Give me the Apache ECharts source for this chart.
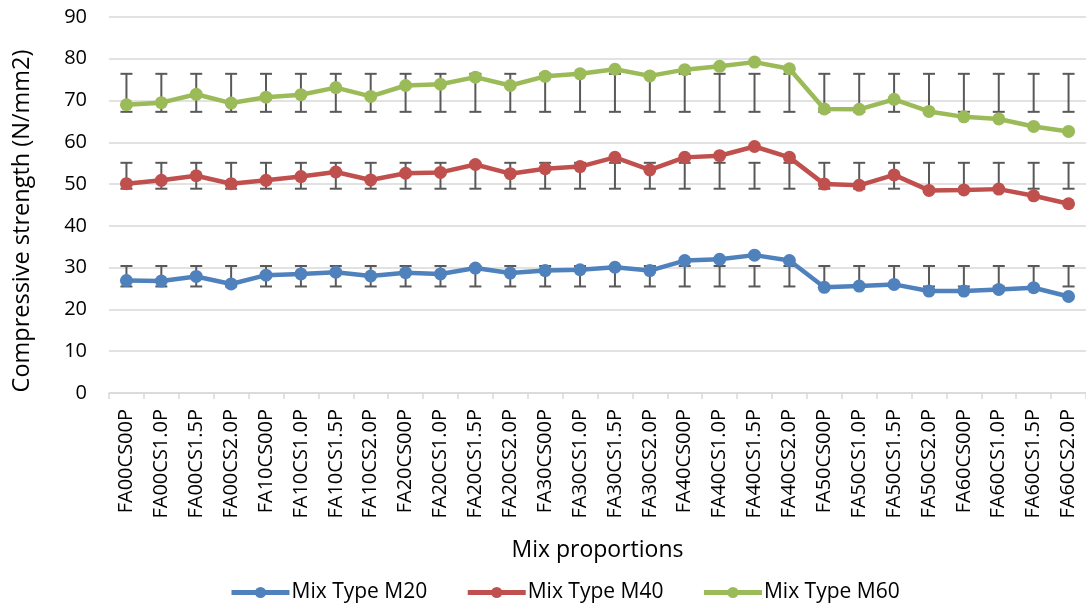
<!DOCTYPE html>
<html>
<head>
<meta charset="utf-8">
<script src="https://cdn.jsdelivr.net/npm/echarts@6/dist/echarts.min.js"></script>
<style>
html,body{margin:0;padding:0;background:#fff;}
#chart{width:1086px;height:606px;}
</style>
</head>
<body>
<div id="chart"></div>
<script>
var categories = ['FA00CS00P','FA00CS1.0P','FA00CS1.5P','FA00CS2.0P','FA10CS00P','FA10CS1.0P','FA10CS1.5P','FA10CS2.0P','FA20CS00P','FA20CS1.0P','FA20CS1.5P','FA20CS2.0P','FA30CS00P','FA30CS1.0P','FA30CS1.5P','FA30CS2.0P','FA40CS00P','FA40CS1.0P','FA40CS1.5P','FA40CS2.0P','FA50CS00P','FA50CS1.0P','FA50CS1.5P','FA50CS2.0P','FA60CS00P','FA60CS1.0P','FA60CS1.5P','FA60CS2.0P'];
var seriesNames = ['Mix Type M20','Mix Type M40','Mix Type M60'];
var m20 = [26.9,26.8,27.9,26.1,28.2,28.5,28.9,28.0,28.8,28.5,29.9,28.7,29.3,29.5,30.1,29.3,31.7,32.0,33.0,31.7,25.3,25.6,26.0,24.4,24.4,24.8,25.2,23.1];
var m40 = [50.1,50.9,52.0,50.1,50.9,51.8,52.9,51.0,52.6,52.8,54.7,52.5,53.7,54.2,56.4,53.4,56.4,56.8,59.0,56.4,50.0,49.7,52.2,48.5,48.6,48.8,47.2,45.3];
var m60 = [69.0,69.5,71.5,69.4,70.8,71.4,73.1,71.0,73.6,73.9,75.6,73.6,75.8,76.4,77.5,75.9,77.4,78.2,79.2,77.6,68.0,67.9,70.3,67.4,66.1,65.6,63.8,62.6];
// error bar range (low, high) per series, same for every category
var errM20 = [25.5, 30.4];
var errM40 = [48.9, 55.1];
var errM60 = [67.3, 76.4];
var yTicks = [0,10,20,30,40,50,60,70,80,90];
var xTitle = 'Mix proportions';
var yTitle = 'Compressive strength (N/mm2)';

var colors = ['#4f81bd','#c0504d','#9bbb59'];
var values = [m20, m40, m60];
var errs = [errM20, errM40, errM60];

function errData(err){
  return categories.map(function(c,i){ return [i, err[0], err[1]]; });
}
function renderErr(params, api){
  var x = api.value(0);
  var lo = api.coord([x, api.value(1)]);
  var hi = api.coord([x, api.value(2)]);
  var hw = 6;
  var st = {stroke:'#595959', lineWidth:2, fill:null};
  return {type:'group', children:[
    {type:'line', shape:{x1:lo[0],y1:lo[1],x2:hi[0],y2:hi[1]}, style:st},
    {type:'line', shape:{x1:lo[0]-hw,y1:lo[1],x2:lo[0]+hw,y2:lo[1]}, style:st},
    {type:'line', shape:{x1:hi[0]-hw,y1:hi[1],x2:hi[0]+hw,y2:hi[1]}, style:st}
  ]};
}

var series = [];
for (var k=0;k<3;k++){
  series.push({
    type:'custom', name:seriesNames[k]+' err', renderItem:renderErr,
    data:errData(errs[k]), z:1, silent:true, encode:{x:0,y:[1,2]}
  });
}
for (var k=0;k<3;k++){
  series.push({
    type:'line', name:seriesNames[k], data:values[k], z:3,
    symbol:'circle', symbolSize:13,
    lineStyle:{color:colors[k], width:4.5},
    itemStyle:{color:colors[k]},
    animation:false
  });
}

var chart = echarts.init(document.getElementById('chart'));
chart.setOption({
  animation:false,
  color:colors,
  textStyle:{fontFamily:'Open Sans'},
  grid:{left:109, top:17, width:979, height:376, containLabel:false},
  xAxis:{
    type:'category', data:categories, boundaryGap:true,
    axisLine:{lineStyle:{color:'#d9d9d9', width:1.5}},
    axisTick:{show:true, length:6, lineStyle:{color:'#d9d9d9', width:1.5}},
    axisLabel:{rotate:90, fontSize:20, color:'#000', margin:16, fontFamily:'Open Sans', interval:0},
    name:xTitle, nameLocation:'middle', nameGap:157,
    nameTextStyle:{fontSize:23, color:'#000', fontFamily:'Open Sans', verticalAlign:'middle'}
  },
  yAxis:{
    type:'value', min:yTicks[0], max:yTicks[yTicks.length-1], interval:10,
    axisLine:{show:false}, axisTick:{show:false},
    splitLine:{lineStyle:{color:'#d9d9d9', width:1.5}},
    axisLabel:{fontSize:20, color:'#000', margin:22, fontFamily:'Open Sans'}
  },
  graphic:[{
    type:'text', x:22, y:221, rotation:Math.PI/2,
    style:{text:yTitle, font:'23.5px "Open Sans"', fill:'#000', align:'center', verticalAlign:'middle'}
  }],
  legend:{
    data:seriesNames, left:224, top:577, itemWidth:58, itemHeight:14, itemGap:38,
    lineStyle:{width:5},
    textStyle:{fontSize:21, color:'#000', fontFamily:'Open Sans', padding:[0,0,0,-3]}
  },
  series:series
});
</script>
</body>
</html>
